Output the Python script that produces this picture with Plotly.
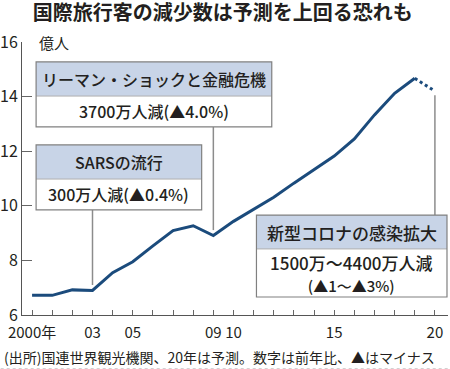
import plotly.graph_objects as go

# ---- data ----
years = list(range(2000, 2020))
travelers = [6.72, 6.72, 6.92, 6.90, 7.55, 7.95, 8.53, 9.09, 9.27, 8.91,
             9.43, 9.86, 10.31, 10.83, 11.31, 11.82, 12.45, 13.33, 14.12, 14.67]
forecast_years = [2019, 2020]
forecast_values = [14.67, 14.20]

tick_years = list(range(2000, 2021))
tick_labels = {2000: "2000年", 2003: "03", 2005: "05", 2009: "09", 2010: "10", 2015: "15", 2020: "20"}
y_ticks = [6, 8, 10, 12, 14, 16]

title_text = "国際旅行客の減少数は予測を上回る恐れも"
unit_text = "億人"
source_text = "(出所)国連世界観光機関、20年は予測。数字は前年比、▲はマイナス"

events = [
    # header, body, anchor year
    ("リーマン・ショックと金融危機", "3700万人減(▲4.0%)", 2009),
    ("SARSの流行", "300万人減(▲0.4%)", 2003),
    ("新型コロナの感染拡大", "1500万～4400万人減<br><span style='font-size:15px'>(▲1～▲3%)</span>", 2020),
]

# ---- layout constants (box geometry in axis units) ----
boxes = [
    dict(x0=2000.2, x1=2011.9, top=15.27, mid=14.02, bottom=12.89, fs=16),
    dict(x0=2000.2, x1=2008.42, top=12.23, mid=10.98, bottom=9.85, fs=16),
    dict(x0=2011.14, x1=2020.6, top=9.66, mid=8.42, bottom=6.66, fs=17),
]

FONT = "Noto Sans CJK JP, Noto Sans, sans-serif"
LINE_COLOR = "#1b4b7c"
HEADER_FILL = "#c8d4e7"
BORDER = "#808080"
TXT = "#231f20"

value_of = dict(zip(years, travelers))
value_of.update(dict(zip(forecast_years, forecast_values)))

fig = go.Figure()
fig.add_trace(go.Scatter(x=years, y=travelers, mode="lines",
                         line=dict(color=LINE_COLOR, width=3), hoverinfo="skip"))
fig.add_trace(go.Scatter(x=forecast_years, y=forecast_values, mode="lines",
                         line=dict(color=LINE_COLOR, width=3, dash="dot"), hoverinfo="skip"))

shapes = []
annotations = []
for (head, body, yr), b in zip(events, boxes):
    v = value_of[yr]
    if b["bottom"] > v:
        shapes.append(dict(type="line", xref="x", yref="y", x0=yr, x1=yr,
                           y0=b["bottom"], y1=v + 0.2,
                           line=dict(color="#8c8c8c", width=1.5), layer="below"))
    else:
        shapes.append(dict(type="line", xref="x", yref="y", x0=yr, x1=yr,
                           y0=b["top"], y1=v - 0.15,
                           line=dict(color="#8c8c8c", width=1.5), layer="below"))
    shapes.append(dict(type="rect", xref="x", yref="y", x0=b["x0"], x1=b["x1"],
                       y0=b["mid"], y1=b["top"], fillcolor=HEADER_FILL,
                       line=dict(width=0), layer="above"))
    shapes.append(dict(type="rect", xref="x", yref="y", x0=b["x0"], x1=b["x1"],
                       y0=b["bottom"], y1=b["mid"], fillcolor="white",
                       line=dict(width=0), layer="above"))
    shapes.append(dict(type="line", xref="x", yref="y", x0=b["x0"], x1=b["x1"],
                       y0=b["mid"], y1=b["mid"], line=dict(color="#b0b0b0", width=1), layer="above"))
    shapes.append(dict(type="rect", xref="x", yref="y", x0=b["x0"], x1=b["x1"],
                       y0=b["bottom"], y1=b["top"], fillcolor="rgba(0,0,0,0)",
                       line=dict(color=BORDER, width=1.2), layer="above"))
    cx = (b["x0"] + b["x1"]) / 2
    annotations.append(dict(x=cx, y=(b["top"] + b["mid"]) / 2, xref="x", yref="y",
                            text=head, showarrow=False,
                            font=dict(size=b["fs"], color=TXT, family=FONT, weight=500),
                            xanchor="center", yanchor="middle"))
    annotations.append(dict(x=cx, y=(b["mid"] + b["bottom"]) / 2, xref="x", yref="y",
                            text=body, showarrow=False,
                            font=dict(size=b["fs"], color=TXT, family=FONT, weight=500),
                            xanchor="center", yanchor="middle"))

# unit label
annotations.append(dict(x=2000.25, y=16, xref="x", yref="y", text=unit_text, showarrow=False,
                        xanchor="left", yanchor="middle", font=dict(size=15, color=TXT, family=FONT)))
# source
annotations.append(dict(x=-0.047, y=-0.154, xref="paper", yref="paper", text=source_text,
                        showarrow=False, xanchor="left", yanchor="middle",
                        font=dict(size=14, color=TXT, family=FONT)))
# bottom dotted rule
shapes.append(dict(type="line", xref="paper", yref="paper", x0=-0.05, x1=1.0, y0=-0.197, y1=-0.197,
                   line=dict(color="#c0c0c0", width=1, dash="dot")))

fig.update_layout(
    width=450, height=369,
    margin=dict(l=22, r=2, t=42, b=54, autoexpand=False),
    paper_bgcolor="white", plot_bgcolor="white",
    showlegend=False,
    font=dict(family=FONT, color=TXT),
    title=dict(text="<b>" + title_text + "</b>", x=0.495, xanchor="center",
               y=0.966, yanchor="middle", font=dict(size=20, color=TXT, family=FONT),
               automargin=False),
    shapes=shapes, annotations=annotations,
)
fig.update_xaxes(range=[1999.5, 2020.65], tickvals=tick_years, automargin=False,
                 ticktext=[tick_labels.get(y, "") for y in tick_years],
                 ticks="inside", ticklen=5, tickcolor="#666", tickwidth=1,
                 ticklabelstandoff=4,
                 showline=True, linecolor="#555", linewidth=1, showgrid=False, zeroline=False,
                 tickfont=dict(size=15, color=TXT, family=FONT))
fig.update_yaxes(range=[6, 16], tickvals=y_ticks, automargin=False,
                 ticks="inside", ticklen=10, tickcolor="#666", tickwidth=1,
                 showline=True, linecolor="#555", linewidth=1, showgrid=False, zeroline=False,
                 tickfont=dict(size=16, color=TXT, family=FONT))

fig.write_html("out.html", config={"displayModeBar": False},
               post_script="document.body.style.margin='0';document.body.style.padding='0';")
